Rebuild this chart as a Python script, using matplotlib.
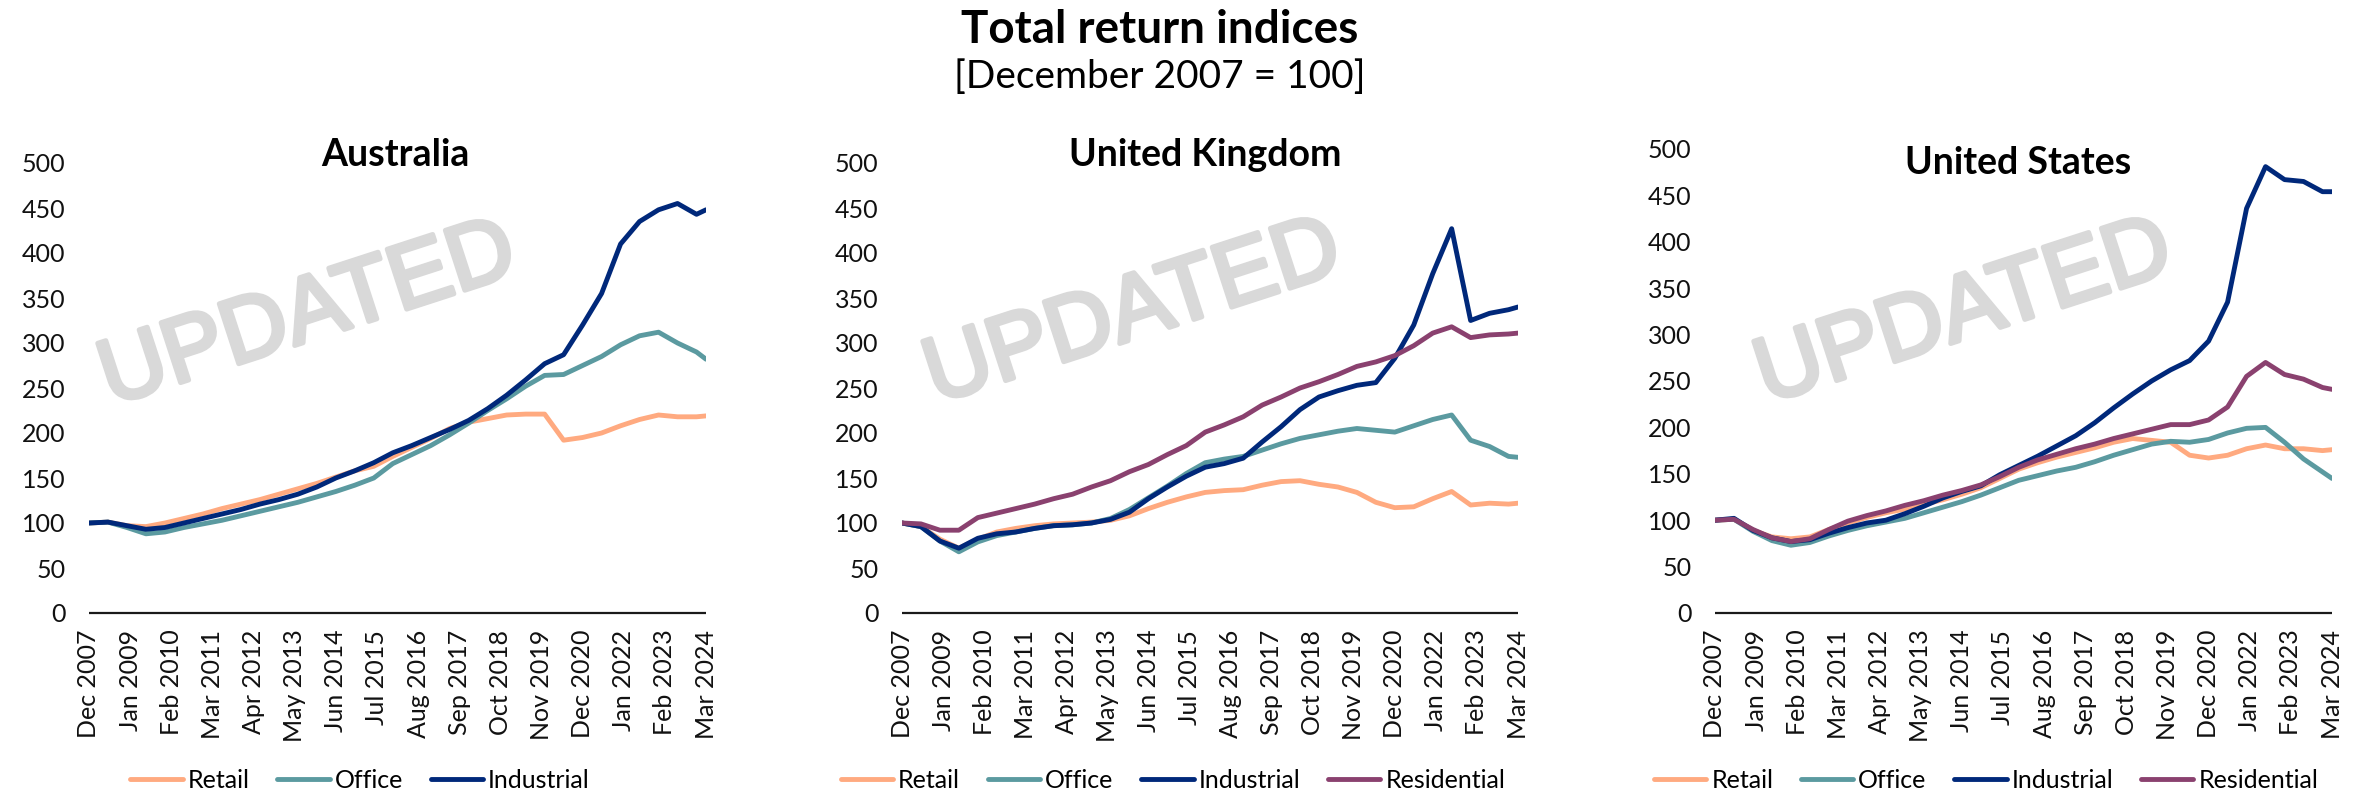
import matplotlib
matplotlib.use("Agg")
import matplotlib.pyplot as plt
import matplotlib.patheffects as pe
import pandas as pd

# ---------------- data ----------------
# observation dates (semi-annual readings + final quarter)
obs_dates = list(pd.date_range("2007-12-01", "2023-12-01", freq="6MS").strftime("%Y-%m")) + ["2024-03"]

tick_labels = ["Dec 2007", "Jan 2009", "Feb 2010", "Mar 2011", "Apr 2012", "May 2013",
               "Jun 2014", "Jul 2015", "Aug 2016", "Sep 2017", "Oct 2018", "Nov 2019",
               "Dec 2020", "Jan 2022", "Feb 2023", "Mar 2024"]

au_retail = [100, 101, 97, 96, 100, 105, 110, 116, 121, 126, 132, 138, 144, 151, 158, 163,
             174, 184, 194, 205, 212, 216, 220, 221, 221, 192, 195, 200, 208, 215, 220, 218, 218, 219]
au_office = [100, 101, 95, 88, 90, 95, 99, 103, 108, 113, 118, 123, 129, 135, 142, 150,
             166, 176, 186, 198, 211, 225, 238, 252, 264, 265, 275, 285, 298, 308, 312, 300, 290, 282]
au_industrial = [100, 101, 97, 93, 95, 100, 105, 110, 115, 121, 126, 132, 140, 150, 158, 167,
                 178, 186, 195, 204, 214, 227, 242, 259, 277, 287, 320, 355, 410, 435, 448, 455, 443, 448]

uk_retail = [100, 96, 82, 72, 82, 90, 94, 97, 99, 100, 101, 103, 108, 116, 123, 129,
             134, 136, 137, 142, 146, 147, 143, 140, 134, 123, 117, 118, 127, 135, 120, 122, 121, 122]
uk_office = [100, 96, 80, 68, 79, 86, 90, 94, 97, 98, 100, 105, 115, 128, 141, 155,
             167, 171, 174, 181, 188, 194, 198, 202, 205, 203, 201, 208, 215, 220, 192, 185, 174, 173]
uk_industrial = [100, 96, 80, 72, 83, 88, 90, 94, 97, 98, 100, 104, 112, 127, 140, 152,
                 162, 166, 172, 190, 207, 226, 240, 247, 253, 256, 283, 320, 377, 427, 325, 333, 337, 340]
uk_residential = [100, 99, 92, 92, 106, 111, 116, 121, 127, 132, 140, 147, 157, 165, 176, 186,
                  201, 209, 218, 231, 240, 250, 257, 265, 274, 279, 286, 297, 311, 318, 306, 309, 310, 311]

us_retail = [100, 101, 89, 82, 80, 82, 90, 97, 103, 108, 112, 117, 122, 128, 135, 145,
             155, 162, 168, 173, 178, 184, 188, 186, 184, 170, 167, 170, 177, 181, 177, 177, 175, 176]
us_office = [100, 101, 88, 78, 73, 76, 83, 89, 94, 98, 102, 108, 114, 120, 127, 135,
             143, 148, 153, 157, 163, 170, 176, 182, 185, 184, 187, 194, 199, 200, 184, 166, 152, 145]
us_industrial = [100, 102, 89, 81, 77, 79, 86, 92, 97, 100, 107, 115, 124, 131, 137, 149,
                 159, 169, 180, 191, 205, 221, 236, 250, 262, 272, 293, 335, 436, 481, 467, 465, 454, 454]
us_residential = [100, 101, 90, 81, 77, 80, 90, 99, 105, 110, 116, 121, 127, 132, 138, 147,
                  157, 165, 171, 177, 182, 188, 193, 198, 203, 203, 208, 222, 255, 270, 257, 252, 243, 241]

series_names = ["Retail", "Office", "Industrial", "Residential"]
colors = {"Retail": "#FFAA80", "Office": "#5B9AA0", "Industrial": "#00287A", "Residential": "#8A416F"}

panels = [
    ("Australia", {"Retail": au_retail, "Office": au_office, "Industrial": au_industrial}),
    ("United Kingdom", {"Retail": uk_retail, "Office": uk_office, "Industrial": uk_industrial,
                        "Residential": uk_residential}),
    ("United States", {"Retail": us_retail, "Office": us_office, "Industrial": us_industrial,
                       "Residential": us_residential}),
]

# month offsets from Dec 2007
start = pd.Period("2007-12", freq="M")
x_months = [(pd.Period(d, freq="M") - start).n for d in obs_dates]
tick_pos = [(pd.Period(pd.to_datetime(t, format="%b %Y"), freq="M") - start).n for t in tick_labels]

# ---------------- layout ----------------
W, H = 2356, 792
FONT = "Lato"
plt.rcParams["font.family"] = [FONT, "DejaVu Sans"]

fig = plt.figure(figsize=(W / 100, H / 100), dpi=100)

# pixel geometry: (x0, x1, y_of_0, y_of_500, title_cx, title_cy, legend_cx, wm_cx, wm_cy)
geo = [
    (89, 706, 613, 163, 395, 155, 360, 308, 316),
    (902, 1518, 613, 163, 1205, 155, 1173, 1133, 314),
    (1715, 2332, 613, 149, 2018, 163, 1986, 1964, 314),
]

for (title, data), (x0, x1, y0, y5, tcx, tcy, lcx, wcx, wcy) in zip(panels, geo):
    ax = fig.add_axes([x0 / W, (H - y0) / H, (x1 - x0) / W, (y0 - y5) / H])
    ax.set_xlim(0, 195)
    ax.set_ylim(0, 500)
    for s in ["top", "right", "left"]:
        ax.spines[s].set_visible(False)
    ax.spines["bottom"].set_linewidth(1.6)
    ax.spines["bottom"].set_color("#1a1a1a")
    ax.spines["bottom"].set_capstyle("butt")
    ax.set_yticks(range(0, 501, 50))
    ax.set_xticks(tick_pos)
    ax.set_xticklabels(tick_labels, rotation=90)
    ax.tick_params(axis="y", length=0, pad=17, labelsize=18, colors="#111111")
    ax.tick_params(axis="x", length=0, pad=12, labelsize=18, colors="#111111")
    ax.patch.set_visible(False)

    # watermark (behind lines)
    ax.text(wcx / W, 1 - wcy / H, "UPDATED", transform=fig.transFigure,
            family="Liberation Sans", fontsize=66, color="#D9D9D9",
            rotation=18, rotation_mode="anchor", ha="center", va="center", zorder=0,
            path_effects=[pe.withStroke(linewidth=3.5, foreground="#D9D9D9")])

    handles = []
    for name in series_names:
        if name in data:
            ln, = ax.plot(x_months, data[name], color=colors[name], lw=3.5,
                          solid_capstyle="round", solid_joinstyle="round", label=name, zorder=2)
            handles.append(ln)

    fig.text(tcx / W, 1 - tcy / H, title, fontsize=27, fontweight="bold",
             ha="center", va="center", color="#000000")

    fig.legend(handles=handles, loc="center", bbox_to_anchor=(lcx / W, 1 - 780 / H),
               ncol=len(handles), frameon=False, fontsize=18, handlelength=2.1,
               handletextpad=0.2, columnspacing=1.1, borderpad=0)

fig.text(1160 / W, 1 - 30 / H, "Total return indices", fontsize=33, fontweight="bold",
         ha="center", va="center")
fig.text(1160 / W, 1 - 77 / H, "[December 2007 = 100]", fontsize=28,
         ha="center", va="center")

fig.savefig("out.png", dpi=100)
